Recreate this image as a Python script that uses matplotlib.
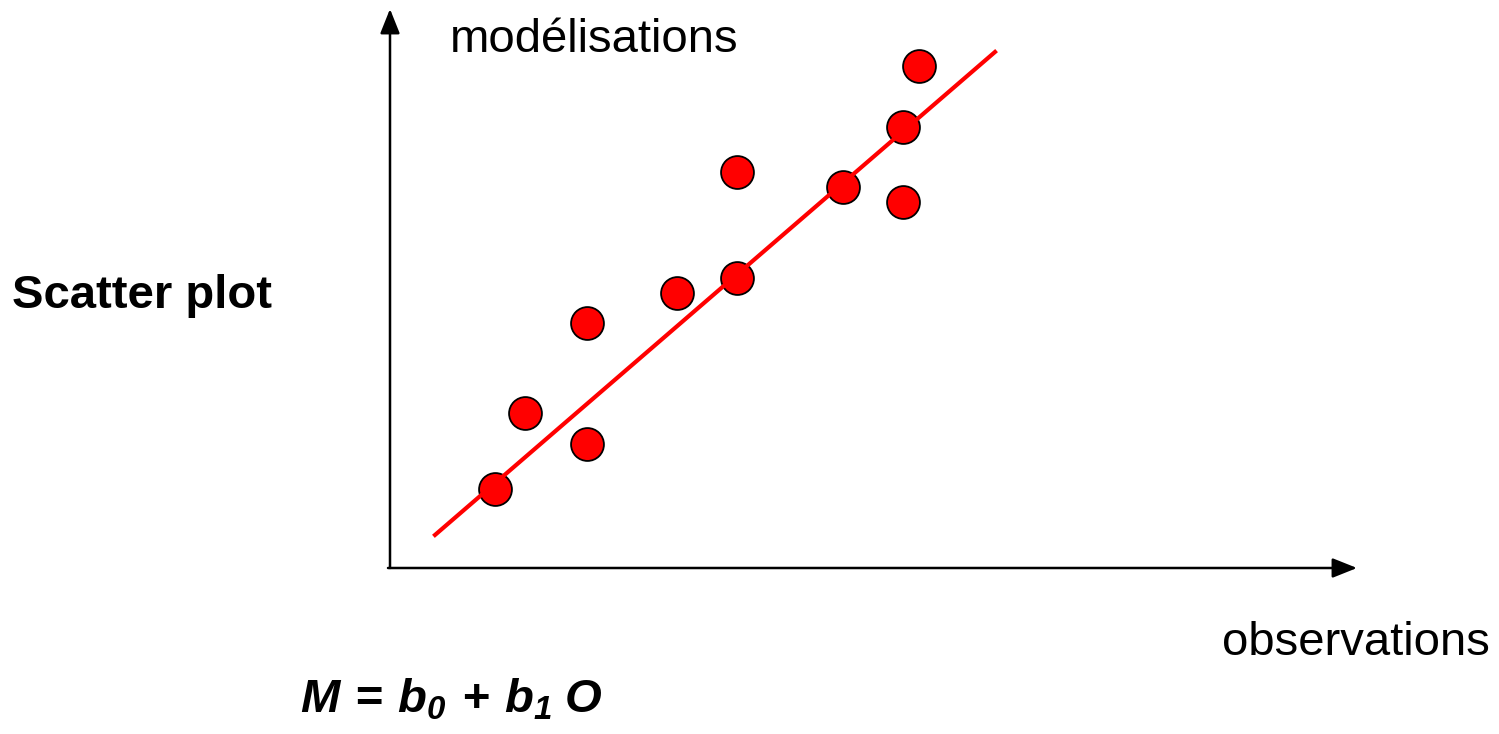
import numpy as np
import matplotlib.pyplot as plt

plt.rcParams['font.family'] = ['Liberation Sans', 'DejaVu Sans']
plt.rcParams['mathtext.fontset'] = 'custom'
plt.rcParams['mathtext.it'] = 'Liberation Sans:italic:bold'
plt.rcParams['mathtext.rm'] = 'Liberation Sans:italic:bold'
plt.rcParams['mathtext.bf'] = 'Liberation Sans:italic:bold'

# observations vs modelisations (arbitrary units)
obs = [1.07, 1.37, 1.99, 1.99, 2.89, 3.49, 3.49, 4.55, 5.15, 5.15, 5.31]
mod = [0.79, 1.55, 2.45, 1.24, 2.75, 3.96, 2.90, 3.81, 4.41, 3.66, 5.02]
# regression line M = b0 + b1 O
b0, b1 = -0.075, 0.8625
line_range = [0.47, 6.07]

fig = plt.figure(figsize=(14.99, 7.34), dpi=100)
# axes box from pixel x 388..1357, y 9..568
ax = fig.add_axes([388/1499, (734-568)/734, (1357-388)/1499, (568-9)/734])
ax.set_xlim(0, 9.69)
ax.set_ylim(0, 5.59)
ax.axis('off')

# axis arrows
arrow = dict(arrowstyle='-|>,head_length=1.5,head_width=0.6',
             color='black', lw=1.8, shrinkA=0, shrinkB=0)
ax.annotate('', xy=(9.69, 0), xytext=(0, 0), arrowprops=arrow, annotation_clip=False)
ax.annotate('', xy=(0.02, 5.59), xytext=(0.02, 0), arrowprops=arrow, annotation_clip=False)

ax.scatter(obs, mod, s=560, c='#ff0000', edgecolors='black', linewidths=1.3, zorder=2)
xl = np.array(line_range)
ax.plot(xl, b0 + b1 * xl, color='#ff0000', lw=3, zorder=3)

fig.text(450/1499, 1 - 40/734, 'modélisations', fontsize=34, va='center', ha='left')
fig.text(1490/1499, 1 - 643/734, 'observations', fontsize=34, va='center', ha='right')
fig.text(12/1499, 1 - 296/734, 'Scatter plot', fontsize=34, fontweight='bold', va='center', ha='left')
fig.text(300/1499, 1 - 700/734, r'$M\,=\,b_0\,+\,b_1\;O$', fontsize=34, va='center', ha='left')

fig.savefig('out.png', dpi=100, facecolor='white')
